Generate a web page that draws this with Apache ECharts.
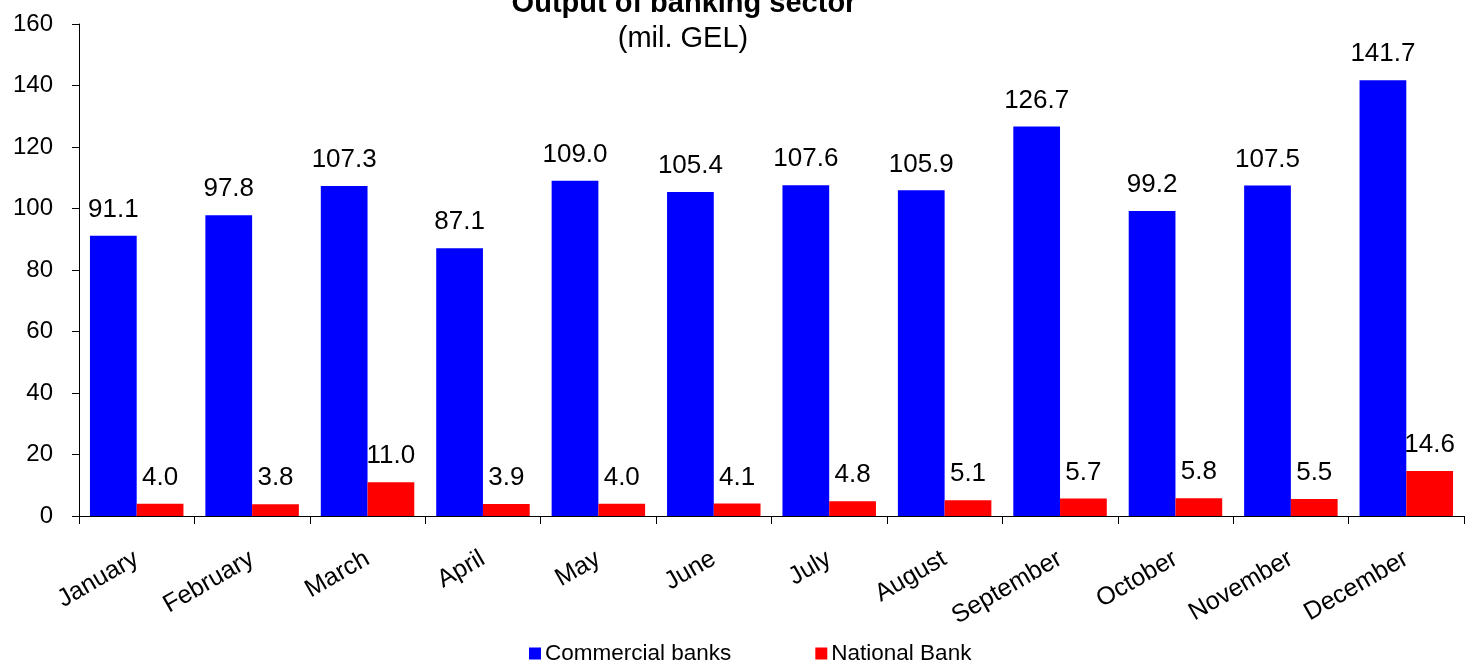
<!DOCTYPE html>
<html>
<head>
<meta charset="utf-8">
<script src="https://cdn.jsdelivr.net/npm/echarts@6/dist/echarts.min.js"></script>
<style>html,body{margin:0;padding:0;background:#fff}#c{width:1470px;height:664px}</style>
</head>
<body>
<div id="c"></div>
<script>
const months = ['January','February','March','April','May','June','July','August','September','October','November','December'];
const commercialBanks = [91.1, 97.8, 107.3, 87.1, 109.0, 105.4, 107.6, 105.9, 126.7, 99.2, 107.5, 141.7];
const nationalBank = [4.0, 3.8, 11.0, 3.9, 4.0, 4.1, 4.8, 5.1, 5.7, 5.8, 5.5, 14.6];
const yTicks = {min: 0, max: 160, interval: 20};

const font = 'Liberation Sans, Arial, sans-serif';
const chart = echarts.init(document.getElementById('c'));
const lbl = {show: true, position: 'top', distance: 13, color: '#000', fontSize: 26, fontFamily: font,
  formatter: p => p.value.toFixed(1)};
chart.setOption({
  animation: false,
  graphic: [
    {type: 'text', x: 684, y: -11, style: {text: 'Output of banking sector', fontSize: 29, fontWeight: 'bold', fontFamily: font, fill: '#000', textAlign: 'center'}},
    {type: 'text', x: 683, y: 24, style: {text: '(mil. GEL)', fontSize: 29, fontFamily: font, fill: '#000', textAlign: 'center'}}
  ],
  legend: {
    bottom: -6, left: 524, itemWidth: 12, itemHeight: 12, itemGap: 84, icon: 'rect',
    textStyle: {fontSize: 22.5, fontFamily: font, color: '#000', padding: [0,0,0,-1]},
    data: ['Commercial banks', 'National Bank']
  },
  grid: {left: 79, right: 6, top: 24, bottom: 148},
  xAxis: {
    type: 'category', data: months,
    axisLine: {lineStyle: {color: '#000', width: 1}},
    axisTick: {show: true, length: 8, lineStyle: {color: '#000'}},
    axisLabel: {rotate: 30, margin: 41, fontSize: 25, fontFamily: font, color: '#000', interval: 0}
  },
  yAxis: {
    type: 'value', min: yTicks.min, max: yTicks.max, interval: yTicks.interval,
    splitLine: {show: false},
    axisLine: {show: true, lineStyle: {color: '#000'}},
    axisTick: {show: true, length: 7, lineStyle: {color: '#000'}},
    axisLabel: {fontSize: 24, fontFamily: font, color: '#000', margin: 26}
  },
  series: [
    {name: 'Commercial banks', type: 'bar', data: commercialBanks, itemStyle: {color: '#0000FF'},
     barGap: '0%', barCategoryGap: '19%', label: lbl},
    {name: 'National Bank', type: 'bar', data: nationalBank, itemStyle: {color: '#FF0000'},
     barGap: '0%', barCategoryGap: '19%', label: lbl}
  ]
});
</script>
</body>
</html>
